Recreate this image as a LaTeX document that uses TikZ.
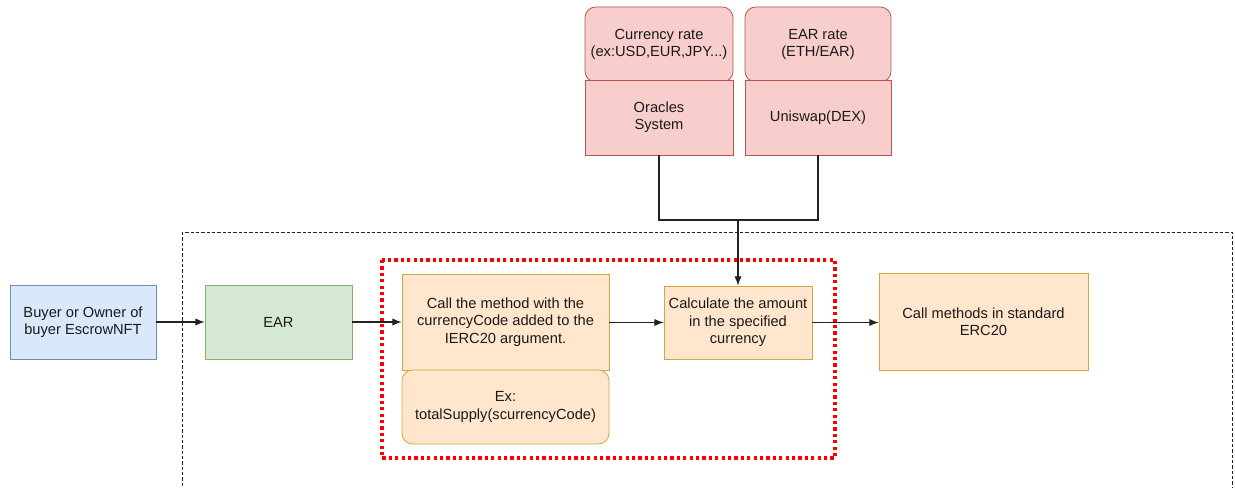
\documentclass[tikz,border=0pt]{standalone}
\usepackage{fontspec}
\setmainfont{Liberation Sans}
\usetikzlibrary{arrows.meta}

\definecolor{redfill}{HTML}{F8CECC}
\definecolor{redline}{HTML}{B85450}
\definecolor{bluefill}{HTML}{DAE8FC}
\definecolor{blueline}{HTML}{6C8EBF}
\definecolor{greenfill}{HTML}{D5E8D4}
\definecolor{greenline}{HTML}{82B366}
\definecolor{orangefill}{HTML}{FFE6CC}
\definecolor{orangeline}{HTML}{D6A440}
\definecolor{textgray}{HTML}{1A1A1A}
\definecolor{wiregray}{HTML}{222222}

\tikzset{
    box/.style={draw, line width=0.6pt, inner sep=0pt, align=center,
        text=textgray, font=\fontsize{11}{13}\selectfont},
    ratebox/.style={box, fill=redfill, draw=redline, rounded corners=8pt},
    srcbox/.style={box, fill=redfill, draw=redline},
    userbox/.style={box, fill=bluefill, draw=blueline},
    earbox/.style={box, fill=greenfill, draw=greenline},
    stepbox/.style={box, fill=orangefill, draw=orangeline},
    wire/.style={draw=wiregray, line width=0.8pt},
    tip/.style={-{Latex[length=7pt, width=5.5pt]}},
}

\begin{document}
\begin{tikzpicture}[x=0.75pt, y=-0.75pt]
        \useasboundingbox (0,0) rectangle (1235,488);

        % outer frame, cut by the page edge
        \draw[wiregray, line width=0.6pt, dash pattern=on 2.5pt off 1.5pt] (182,232) rectangle (1232,500);

        \node[ratebox, minimum width=111pt, minimum height=56.25pt] (currate) at (659,44.5) {Currency rate\\(ex:USD,EUR,JPY...)};
        \node[srcbox, minimum width=111pt, minimum height=56.25pt] (oracle) at (659,117.5) {Oracles\\System};
        \node[ratebox, minimum width=109.5pt, minimum height=56.25pt] (earrate) at (818,44.5) {EAR rate\\(ETH/EAR)};
        \node[srcbox, minimum width=109.5pt, minimum height=56.25pt] (uniswap) at (818,117.5) {Uniswap(DEX)};

        \node[userbox, minimum width=109.5pt, minimum height=55.5pt] (buyer) at (83,322) {Buyer or Owner of\\buyer EscrowNFT};
        \node[earbox, minimum width=110.25pt, minimum height=55.5pt] (ear) at (278.5,322) {EAR};

        \node[stepbox, minimum width=155.25pt, minimum height=72pt] (callarg) at (505.5,322) {Call the method with the\\currencyCode added to the\\IERC20 argument.};
        \node[stepbox, rounded corners=8pt, minimum width=155.25pt, minimum height=55.5pt] (example) at (505.5,407) {Ex:\\totalSupply(scurrencyCode)};
        \node[stepbox, minimum width=111pt, minimum height=54.75pt] (calc) at (738,322.5) {Calculate the amount\\in the specified\\currency};
        \node[stepbox, minimum width=156.75pt, minimum height=72.75pt] (erc) at (983.5,321.5) {Call methods in standard\\ERC20};

        % red dotted group
        \draw[red, line width=2.6pt, dash pattern=on 2.4pt off 2.4pt] (382,260) rectangle (835,458);

        \coordinate (join) at (738,220);
        \draw[wire] (oracle.south) |- (join) -| (uniswap.south);
        \draw[wire, tip] (join) -- (calc.north);

        \draw[wire, tip] (buyer) -- (ear);
        \draw[wire, tip] (ear) -- (callarg);
        \draw[wire, tip] (callarg.east |- calc) -- (calc);
        \draw[wire, tip] (calc) -- (erc.west |- calc);
    \end{tikzpicture}
\end{document}
